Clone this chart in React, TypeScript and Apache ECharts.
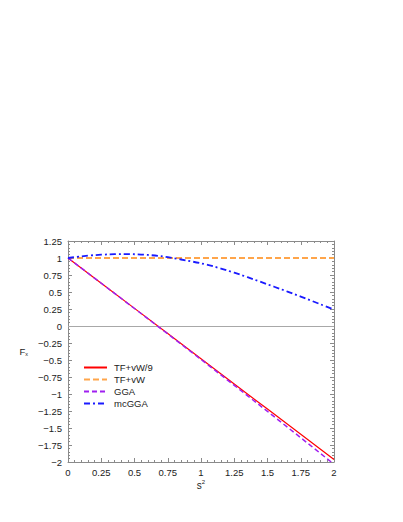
import React, { useEffect, useRef } from "react";
import * as echarts from "echarts";

// s² grid for the straight-ish curves
const s2Coarse = [0, 0.25, 0.5, 0.75, 1, 1.25, 1.5, 1.75, 2];
const tfvw9Values = [1, 0.63, 0.259, -0.111, -0.481, -0.852, -1.222, -1.593, -1.963];
const ggaValues = [1, 0.629, 0.257, -0.116, -0.492, -0.872, -1.256, -1.643, -2.033];

const s2Ends = [0, 2];
const tfvwValues = [1, 1];

const s2Fine = [0, 0.1, 0.2, 0.3, 0.4, 0.5, 0.6, 0.7, 0.8, 0.9, 1, 1.1, 1.2, 1.3, 1.4, 1.5, 1.6, 1.7, 1.8, 1.9, 2];
const mcggaValues = [1, 1.024, 1.042, 1.053, 1.058, 1.055, 1.045, 1.027, 0.995, 0.96, 0.922, 0.873, 0.815, 0.752, 0.683, 0.613, 0.542, 0.47, 0.395, 0.318, 0.24];

const seriesNames = ["TF+vW/9", "TF+vW", "GGA", "mcGGA"];
const xTicks = { min: 0, max: 2, step: 0.25 };
const yTicks = { min: -2, max: 1.25, step: 0.25 };

const pairs = (xs: number[], ys: number[]) => xs.map((x, i) => [x, ys[i]]);

const FONT = "'Liberation Sans', Arial, Helvetica, sans-serif";
const AXIS_COLOR = "#8a8a8a";
const TEXT_COLOR = "#222";

export default function App() {
  const ref = useRef<HTMLDivElement>(null);
  useEffect(() => {
    if (!ref.current) return;
    const chart = echarts.init(ref.current, undefined, { renderer: "svg" });
    const fmt = (v: number) => String(v).replace("-", "\u2212");
    const baseAxis = {
      axisLine: { show: true, onZero: false, lineStyle: { color: AXIS_COLOR, width: 1 } },
      axisTick: { show: true, inside: true, length: 4, lineStyle: { color: AXIS_COLOR } },
      minorTick: { show: true, splitNumber: 5, length: 2, lineStyle: { color: AXIS_COLOR } },
      splitLine: { show: false },
      minorSplitLine: { show: false },
    };
    chart.setOption({
      animation: false,
      backgroundColor: "#fff",
      textStyle: { fontFamily: FONT },
      grid: { left: 68, top: 241, width: 266, height: 221, containLabel: false },
      legend: {
        orient: "vertical",
        left: 83,
        top: 362,
        padding: 0,
        itemWidth: 23,
        itemHeight: 8,
        itemGap: 1,
        itemStyle: { opacity: 0 },
        textStyle: {
          fontSize: 9.5,
          lineHeight: 11,
          color: TEXT_COLOR,
          fontFamily: FONT,
          padding: [0, 0, 0, 2],
        },
        data: seriesNames,
      },
      xAxis: [
        {
          ...baseAxis,
          type: "value",
          min: xTicks.min,
          max: xTicks.max,
          interval: xTicks.step,
          position: "bottom",
          axisLabel: { fontSize: 9.5, color: TEXT_COLOR, margin: 5, formatter: fmt, fontFamily: FONT },
          name: "s{sup|2}",
          nameLocation: "middle",
          nameGap: 17,
          nameTextStyle: {
            fontSize: 10,
            color: TEXT_COLOR,
            fontFamily: FONT,
            rich: {
              sup: { fontSize: 6, color: TEXT_COLOR, fontFamily: FONT, padding: [0, 0, 6, 0] },
            },
          },
        },
        {
          ...baseAxis,
          type: "value",
          min: xTicks.min,
          max: xTicks.max,
          interval: xTicks.step,
          position: "top",
          axisLabel: { show: false },
        },
      ],
      yAxis: [
        {
          ...baseAxis,
          type: "value",
          min: yTicks.min,
          max: yTicks.max,
          interval: yTicks.step,
          position: "left",
          axisLabel: { fontSize: 9.5, color: TEXT_COLOR, margin: 6, formatter: fmt, fontFamily: FONT },
          name: "{f|F}{x|x}",
          nameLocation: "middle",
          nameRotate: 0,
          nameGap: 40,
          nameTextStyle: {
            color: TEXT_COLOR,
            fontFamily: FONT,
            fontSize: 9.5,
            rich: {
              f: { fontSize: 9.5, color: TEXT_COLOR, fontFamily: FONT },
              x: { fontSize: 5.5, color: TEXT_COLOR, fontFamily: FONT, padding: [5, 0, 0, 0] },
            },
          },
        },
        {
          ...baseAxis,
          type: "value",
          min: yTicks.min,
          max: yTicks.max,
          interval: yTicks.step,
          position: "right",
          axisLabel: { show: false },
        },
      ],
      series: [
        {
          name: seriesNames[0],
          type: "line",
          data: pairs(s2Coarse, tfvw9Values),
          showSymbol: false,
          symbol: "none",
          lineStyle: { color: "#ff0000", width: 1.2, type: "solid" },
          itemStyle: { color: "#ff0000" },
          z: 4,
        },
        {
          name: seriesNames[1],
          type: "line",
          data: pairs(s2Ends, tfvwValues),
          showSymbol: false,
          symbol: "none",
          lineStyle: { color: "#ffa54a", width: 2, type: [6, 3] },
          itemStyle: { color: "#ffa54a" },
          z: 3,
          markLine: {
            silent: true,
            symbol: ["none", "none"],
            label: { show: false },
            lineStyle: { color: "#a8a8a8", width: 1, type: "solid" },
            data: [{ yAxis: 0 }],
          },
        },
        {
          name: seriesNames[2],
          type: "line",
          data: pairs(s2Coarse, ggaValues),
          showSymbol: false,
          symbol: "none",
          lineStyle: { color: "#a020f0", width: 1.5, type: [5, 3] },
          itemStyle: { color: "#a020f0" },
          z: 5,
        },
        {
          name: seriesNames[3],
          type: "line",
          data: pairs(s2Fine, mcggaValues),
          showSymbol: false,
          symbol: "none",
          smooth: 0.3,
          lineStyle: { color: "#1a1aff", width: 1.8, type: [6, 3, 2, 3] },
          itemStyle: { color: "#1a1aff" },
          z: 6,
        },
      ],
    });
    return () => chart.dispose();
  }, []);
  return (
    <div
      ref={ref}
      style={{ position: "fixed", left: 0, top: 0, width: 403, height: 522, background: "#fff" }}
    />
  );
}
